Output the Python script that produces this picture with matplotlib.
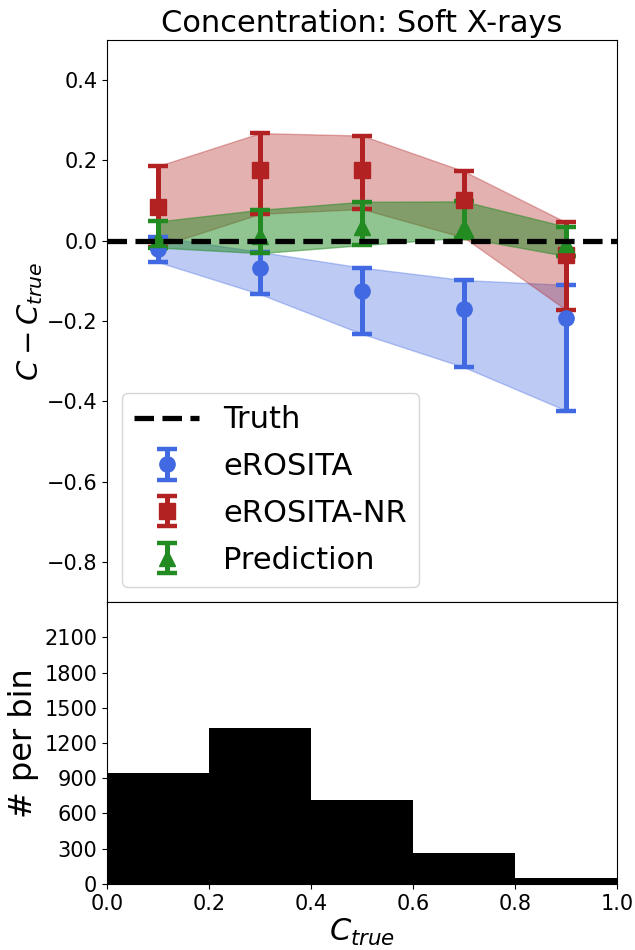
import matplotlib.pyplot as plt
import numpy as np

# bin centres and values
c_bins = [0.1, 0.3, 0.5, 0.7, 0.9]

ero_mid = [-0.021, -0.069, -0.126, -0.169, -0.193]
ero_lo = [-0.053, -0.133, -0.232, -0.315, -0.423]
ero_hi = [0.010, -0.028, -0.067, -0.098, -0.110]

nr_mid = [0.083, 0.175, 0.177, 0.102, -0.035]
nr_lo = [-0.015, 0.067, 0.079, 0.008, -0.172]
nr_hi = [0.186, 0.268, 0.262, 0.173, 0.046]

pred_mid = [0.004, 0.012, 0.033, 0.035, -0.008]
pred_lo = [-0.017, -0.031, -0.011, 0.008, -0.038]
pred_hi = [0.048, 0.077, 0.097, 0.098, 0.035]

hist_edges = [0.0, 0.2, 0.4, 0.6, 0.8, 1.0]
hist_counts = [948, 1328, 716, 265, 51]

fig = plt.figure(figsize=(6.35, 9.5), dpi=100)
ax = fig.add_axes([0.1685, 0.3663, 0.8031, 0.5916])
ax2 = fig.add_axes([0.1685, 0.0695, 0.8031, 0.2968], sharex=ax)

ax.axhline(0, color="black", ls="--", lw=3.8, label="Truth", zorder=5)

series = [
    ("eROSITA", "royalblue", "o", 0.35, ero_mid, ero_lo, ero_hi),
    ("eROSITA-NR", "firebrick", "s", 0.35, nr_mid, nr_lo, nr_hi),
    ("Prediction", "forestgreen", "^", 0.5, pred_mid, pred_lo, pred_hi),
]
for name, col, mk, alp, mid, lo, hi in series:
    mid = np.array(mid)
    lo = np.array(lo)
    hi = np.array(hi)
    ax.errorbar(c_bins, mid, yerr=[mid - lo, hi - mid], fmt=mk, color=col,
                ms=11, elinewidth=3.6, capsize=7.5, capthick=3.2, label=name,
                zorder=4)
    ax.fill_between(c_bins, lo, hi, color=col, alpha=alp, lw=1)

ax.set_xlim(0, 1)
ax.set_ylim(-0.9, 0.5)
ax.set_yticks([-0.8, -0.6, -0.4, -0.2, 0.0, 0.2, 0.4])
ax.tick_params(labelsize=15, labelbottom=False)
ax.set_ylabel(r"$C - C_{true}$", fontsize=21, labelpad=1)
ax.set_title("Concentration: Soft X-rays", fontsize=22)
ax.legend(loc="lower left", fontsize=22, handlelength=2.1, labelspacing=0.58,
          bbox_to_anchor=(0.0, 0.0))

ax2.hist(hist_edges[:-1], bins=hist_edges, weights=hist_counts, color="black")
ax2.set_ylim(0, 2400)
ax2.set_yticks(np.arange(0, 2101, 300))
ax2.tick_params(labelsize=15)
ax2.set_ylabel("# per bin", fontsize=23)
ax2.set_xlabel(r"$C_{true}$", fontsize=22, labelpad=2)

plt.savefig("out.png", dpi=100)
